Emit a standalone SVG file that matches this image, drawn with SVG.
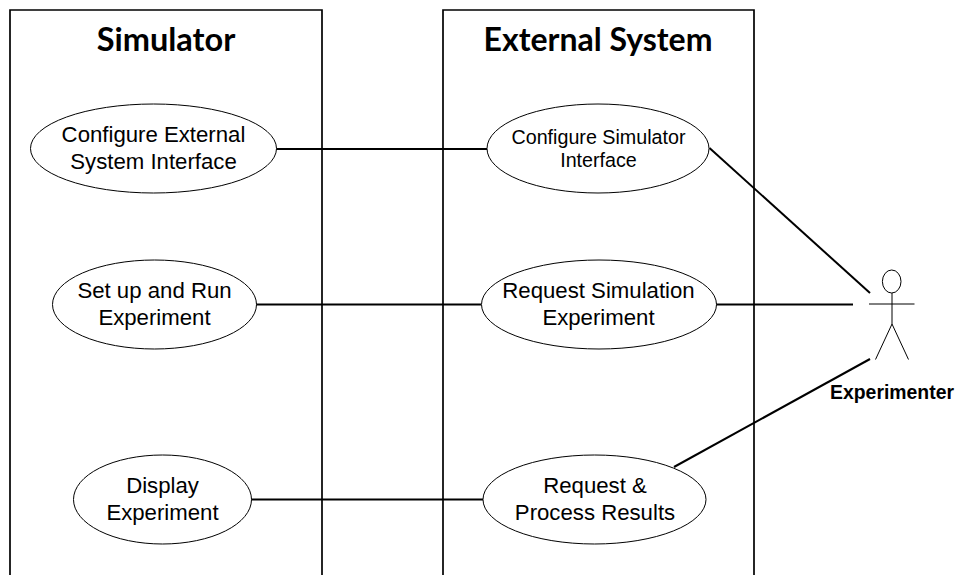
<svg xmlns="http://www.w3.org/2000/svg" width="957" height="575" viewBox="0 0 957 575">
<style>
.box{fill:none;stroke:#000;stroke-width:1.7}
.uc{fill:#fff;stroke:#000;stroke-width:1}
.con{stroke:#000;stroke-width:2;fill:none}
.act{stroke:#000;stroke-width:1;fill:none}
text{font-family:"Liberation Sans",Arial,sans-serif;fill:#000;text-anchor:middle}
.t{font-family:Lato,"Open Sans",sans-serif;font-weight:700;font-size:32px}
.l{font-size:22.2px}
.s{font-size:19.7px}
.b{font-size:19.400px;font-weight:700}
</style>
<rect width="957" height="575" fill="#fff"/>
<g id="boundary-simulator"><path class="box" d="M10 575V10H322V575"/><text class="t" x="166" y="51" style="font-size:32.5px">Simulator</text></g>
<g id="boundary-external"><path class="box" d="M443 575V10H754V575"/><text class="t" x="598" y="51">External System</text></g>
<g id="connectors">
<path class="con" d="M276 149H487"/>
<path class="con" d="M256 304.500H481"/>
<path class="con" d="M251 499.500H483"/>
<path class="con" d="M709.500 148L870 293"/>
<path class="con" d="M716 304.500H853"/>
<path class="con" d="M674 467L870 359"/>
</g>
<g id="uc-configure-external"><ellipse class="uc" cx="153.500" cy="148.500" rx="123" ry="44.500"/><text class="l"><tspan x="153.500" y="142">Configure External</tspan><tspan x="153.500" y="169">System Interface</tspan></text></g>
<g id="uc-setup-run"><ellipse class="uc" cx="154.500" cy="304.500" rx="102" ry="44.500"/><text class="l"><tspan x="154.500" y="298">Set up and Run</tspan><tspan x="154.500" y="325">Experiment</tspan></text></g>
<g id="uc-display"><ellipse class="uc" cx="162.500" cy="499.500" rx="89" ry="44.500"/><text class="l"><tspan x="162.500" y="492.500">Display</tspan><tspan x="162.500" y="520">Experiment</tspan></text></g>
<g id="uc-configure-simulator"><ellipse class="uc" cx="598" cy="148.500" rx="111" ry="44.500"/><text class="s"><tspan x="598.500" y="143.500">Configure Simulator</tspan><tspan x="598.500" y="167">Interface</tspan></text></g>
<g id="uc-request-simulation"><ellipse class="uc" cx="599" cy="304.500" rx="117.500" ry="44.500"/><text class="l"><tspan x="598.500" y="298">Request Simulation</tspan><tspan x="598.500" y="325">Experiment</tspan></text></g>
<g id="uc-request-process"><ellipse class="uc" cx="594.500" cy="499.500" rx="111.500" ry="44.500"/><text class="l"><tspan x="595" y="492.500">Request &amp;</tspan><tspan x="595" y="520">Process Results</tspan></text></g>
<g id="actor-experimenter">
<ellipse class="act" cx="891.700" cy="281.500" rx="9.300" ry="11.500"/>
<path class="act" d="M892 293V324M869 304H914.500M892 324L875.500 359.500M892 324L908.500 359.500"/>
<text class="b" x="892" y="399">Experimenter</text>
</g>
</svg>
